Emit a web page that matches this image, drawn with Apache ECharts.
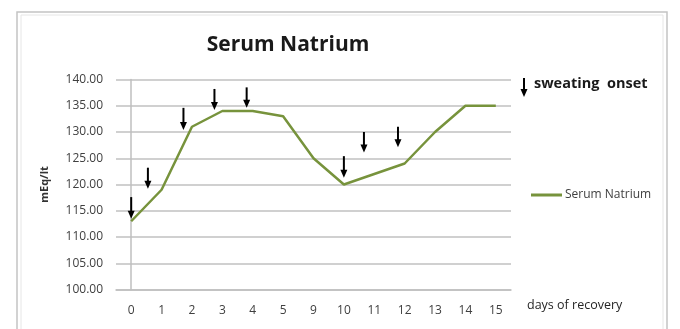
<!DOCTYPE html>
<html>
<head>
<meta charset="utf-8">
<script src="https://cdn.jsdelivr.net/npm/echarts@6/dist/echarts.min.js"></script>
<style>html,body{margin:0;padding:0;background:#fff;}#c{width:680px;height:329px;}</style>
</head>
<body>
<div id="c"></div>
<script>
// ---- data ----
const days = ['0','1','2','3','4','5','9','10','11','12','13','14','15'];
const serumNatrium = [113, 119, 131, 134, 134, 133, 125, 120, 122, 124, 130, 135, 135];
const yTicks = [100, 105, 110, 115, 120, 125, 130, 135, 140];
// sweating onset arrows: position (category index), arrow top value, arrow tip value
const arrowPos = [0.0, 0.55, 1.72, 2.74, 3.8, 7.0, 7.66, 8.78];
const arrowTop = [117.6, 123.2, 134.6, 138.2, 138.5, 125.4, 130.0, 131.0];
const arrowTip = [113.5, 119.2, 130.4, 134.2, 134.6, 121.3, 126.1, 127.1];

const FONT = '"Open Sans", "Noto Sans", sans-serif';
const chart = echarts.init(document.getElementById('c'), null, {renderer: 'canvas'});

const arrowData = arrowPos.map((p, i) => [p, arrowTop[i], arrowTip[i]]);

chart.setOption({
  animation: false,
  backgroundColor: '#fff',
  legend: {
    data: ['Serum Natrium'],
    left: 531, top: 189,
    icon: 'rect', itemWidth: 31, itemHeight: 3,
    padding: 0,
    textStyle: {fontFamily: FONT, fontSize: 12, color: '#404040', padding: [0, 0, 0, -2]}
  },
  grid: {left: 116, right: 169, top: 79.5, bottom: 39.5},
  xAxis: [{
    type: 'category',
    data: days,
    axisLine: {lineStyle: {color: '#bfbfbf', width: 1.5}},
    axisTick: {show: false},
    axisLabel: {fontFamily: FONT, fontSize: 12, color: '#404040', margin: 15}
  }, {
    type: 'value', min: -0.5, max: days.length - 0.5, show: false
  }],
  yAxis: {
    type: 'value', min: yTicks[0], max: yTicks[yTicks.length - 1], interval: 5,
    name: 'mEq/lt', nameLocation: 'middle', nameGap: 66, nameRotate: 90,
    nameTextStyle: {fontFamily: FONT, fontSize: 11, fontWeight: 'bold', color: '#333'},
    axisLine: {show: true, lineStyle: {color: '#bfbfbf', width: 1.5}},
    axisTick: {show: false},
    axisLabel: {fontFamily: FONT, fontSize: 12, color: '#404040', margin: 13,
      formatter: v => v.toFixed(2)},
    splitLine: {lineStyle: {color: '#d0d0d0', width: 2}}
  },
  series: [{
    name: 'Serum Natrium',
    type: 'line',
    data: serumNatrium,
    showSymbol: false, symbol: 'none',
    lineStyle: {color: '#77933c', width: 2.5},
    itemStyle: {color: '#77933c'},
    z: 3
  }, {
    name: 'sweating onset',
    type: 'custom',
    xAxisIndex: 1, yAxisIndex: 0,
    data: arrowData,
    z: 5,
    renderItem: function (params, api) {
      const top = api.coord([api.value(0), api.value(1)]);
      const tip = api.coord([api.value(0), api.value(2)]);
      const headH = 8, headW = 3.5;
      return {
        type: 'group',
        children: [{
          type: 'line',
          shape: {x1: top[0], y1: top[1], x2: tip[0], y2: tip[1] - headH + 1},
          style: {stroke: '#000', lineWidth: 2}
        }, {
          type: 'polygon',
          shape: {points: [[tip[0] - headW, tip[1] - headH], [tip[0] + headW, tip[1] - headH], [tip[0], tip[1]]]},
          style: {fill: '#000'}
        }]
      };
    }
  }],
  graphic: [
    {type: 'rect', shape: {x: 17, y: 12, width: 650, height: 330}, style: {fill: 'none', stroke: '#c4c4c4', lineWidth: 1.5}, silent: true},
    {type: 'rect', shape: {x: 21, y: 15, width: 642, height: 330}, style: {fill: 'none', stroke: '#e6e6e6', lineWidth: 1}, silent: true},
    {type: 'text', x: 288, y: 45,
      style: {text: 'Serum Natrium', font: 'bold 21px "Open Sans", "Noto Sans", sans-serif', fill: '#1a1a1a', textAlign: 'center', textVerticalAlign: 'middle'}},
    {type: 'line', shape: {x1: 524, y1: 78, x2: 524, y2: 90}, style: {stroke: '#000', lineWidth: 2}},
    {type: 'polygon', shape: {points: [[520.5, 89], [527.5, 89], [524, 97]]}, style: {fill: '#000'}},
    {type: 'text', left: 534, top: 76,
      style: {text: 'sweating  onset', font: 'bold 14.5px "Open Sans", "Noto Sans", sans-serif', fill: '#1a1a1a'}},
    {type: 'text', left: 527, top: 299,
      style: {text: 'days of recovery', font: '12.5px "Open Sans", "Noto Sans", sans-serif', fill: '#262626'}}
  ]
});
</script>
</body>
</html>
